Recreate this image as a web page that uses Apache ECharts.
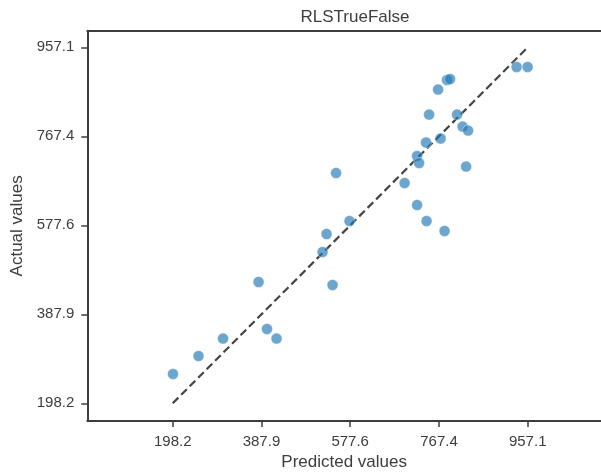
<!DOCTYPE html>
<html><head><meta charset="utf-8">
<script src="https://cdn.jsdelivr.net/npm/echarts@6/dist/echarts.min.js"></script>
<style>html,body{margin:0;padding:0;background:#fff;overflow:hidden}#c{width:601px;height:472px}</style>
</head><body><div id="c"></div>
<script>
const predicted = [198.8,253.4,305.8,381.7,399.8,420.2,518.5,527.1,539.9,547.4,576.2,693.9,720.6,720.6,724.9,740.9,739.8,746.3,765.5,770.8,779.4,784.7,791.2,806.1,817.9,825.4,829.7,933.4,956.9];
const actual    = [260.7,299.0,336.3,456.8,356.6,336.3,520.7,559.1,450.4,689.1,586.8,667.8,620.9,725.4,710.4,586.8,754.2,813.8,867.1,762.7,565.5,887.4,889.5,813.8,788.2,702.9,779.7,915.1,915.1];
const tickValues = [198.2,387.9,577.6,767.4,957.1];
const identityLine = [[198.2,198.2],[957.1,957.1]];

const chart = echarts.init(document.getElementById('c'), null, {renderer:'canvas', width:601, height:472});
const font = 'Liberation Sans, Arial, sans-serif';
const axisCommon = {
  type:'value',
  splitLine:{show:false},
  axisLine:{show:true, onZero:false, lineStyle:{color:'#3d3d3d', width:2}},
  axisTick:{show:true, customValues:tickValues, length:6, lineStyle:{color:'#3d3d3d', width:1.5}},
  axisLabel:{customValues:tickValues, formatter:v=>v.toFixed(1), color:'#3d3d3d', fontSize:15, fontFamily:font, margin:13},
  nameLocation:'middle',
  nameTextStyle:{color:'#3d3d3d', fontSize:17, fontFamily:font}
};
chart.setOption({
  animation:false,
  title:{text:'RLSTrueFalse', left:350, top:4, textAlign:'center', textStyle:{color:'#3d3d3d', fontSize:17, fontWeight:'normal', fontFamily:font}},
  grid:{left:87.3, width:513.7, top:30.7, height:390.3, show:false, outerBoundsMode:'none', containLabel:false},
  xAxis:[
    Object.assign({}, axisCommon, {min:15.6, max:1113.8, name:'Predicted values', nameGap:32}),
    {type:'value', position:'top', min:15.6, max:1113.8, axisLine:{show:true, onZero:false, lineStyle:{color:'#3d3d3d', width:2}},
     axisTick:{show:false}, axisLabel:{show:false}, splitLine:{show:false}}
  ],
  yAxis:Object.assign({}, axisCommon, {min:160.5, max:992.5, name:'Actual values', nameGap:49}),
  series:[
    {type:'line', data:identityLine, symbol:'none', z:1,
     lineStyle:{color:'#444', width:2.2, type:[8,4]}},
    {type:'scatter', data:predicted.map((p,i)=>[p,actual[i]]), symbolSize:11, z:2,
     itemStyle:{color:'rgba(31,119,180,0.82)', borderColor:'rgba(255,255,255,0.8)', borderWidth:0.6}}
  ]
});
</script></body></html>
